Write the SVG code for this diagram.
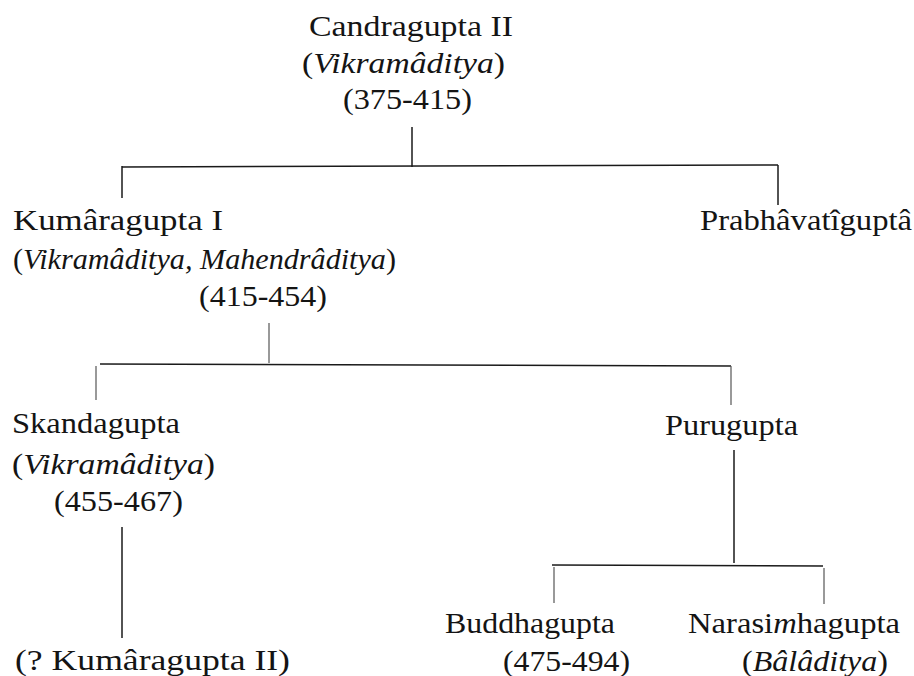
<svg xmlns="http://www.w3.org/2000/svg" width="914" height="676" viewBox="0 0 914 676">
<style>
  text { font-family: "Liberation Serif", "Times New Roman", serif; font-size: 30px; fill: #141414; }
  .i { font-style: italic; }
  .ln { stroke: #1a1a1a; stroke-width: 1.5; fill: none; }
  .lt { stroke: #555; stroke-width: 1.2; fill: none; }
</style>
<rect width="914" height="676" fill="#fff"/>
<g id="connectors">
  <line class="ln" x1="412" y1="127" x2="412" y2="167"/>
  <line class="ln" x1="122" y1="167" x2="778" y2="165"/>
  <line class="ln" x1="122" y1="166" x2="122" y2="198"/>
  <line class="ln" x1="778" y1="165" x2="778" y2="205" stroke-width="2"/>
  <line class="lt" x1="269" y1="323" x2="269" y2="363"/>
  <line class="ln" x1="100" y1="364" x2="731" y2="366"/>
  <line class="lt" x1="96" y1="366" x2="96" y2="400"/>
  <line class="lt" x1="731" y1="366" x2="731" y2="405"/>
  <line class="ln" x1="122" y1="527" x2="122" y2="638"/>
  <line class="ln" x1="734" y1="450" x2="734" y2="563"/>
  <line class="ln" x1="552" y1="565" x2="823" y2="566"/>
  <line class="lt" x1="554" y1="567" x2="554" y2="603" stroke="#999"/>
  <line class="lt" x1="824" y1="568" x2="824" y2="604"/>
</g>
<g id="candragupta2">
  <text x="309" y="36" textLength="204" lengthAdjust="spacingAndGlyphs">Candragupta  II</text>
  <text x="302" y="73" textLength="203" lengthAdjust="spacingAndGlyphs">(<tspan class="i">Vikramâditya</tspan>)</text>
  <text x="343" y="109" textLength="129" lengthAdjust="spacingAndGlyphs">(375-415)</text>
</g>
<g id="kumaragupta1">
  <text x="13" y="230" textLength="210" lengthAdjust="spacingAndGlyphs">Kumâragupta  I</text>
  <text x="13" y="269" textLength="383" lengthAdjust="spacingAndGlyphs">(<tspan class="i">Vikramâditya,  Mahendrâditya</tspan>)</text>
  <text x="199" y="306" textLength="128" lengthAdjust="spacingAndGlyphs">(415-454)</text>
</g>
<g id="prabhavatigupta">
  <text x="700" y="230" textLength="212" lengthAdjust="spacingAndGlyphs">Prabhâvatîguptâ</text>
</g>
<g id="skandagupta">
  <text x="12" y="433" textLength="168" lengthAdjust="spacingAndGlyphs">Skandagupta</text>
  <text x="12" y="474" textLength="203" lengthAdjust="spacingAndGlyphs">(<tspan class="i">Vikramâditya</tspan>)</text>
  <text x="54" y="511" textLength="129" lengthAdjust="spacingAndGlyphs">(455-467)</text>
</g>
<g id="purugupta">
  <text x="665" y="435" textLength="133" lengthAdjust="spacingAndGlyphs">Purugupta</text>
</g>
<g id="kumaragupta2">
  <text x="15" y="670" textLength="275" lengthAdjust="spacingAndGlyphs">(?  Kumâragupta  II)</text>
</g>
<g id="buddhagupta">
  <text x="445" y="633" textLength="170" lengthAdjust="spacingAndGlyphs">Buddhagupta</text>
  <text x="503" y="671" textLength="127" lengthAdjust="spacingAndGlyphs">(475-494)</text>
</g>
<g id="narasimhagupta">
  <text x="688" y="633" textLength="212" lengthAdjust="spacingAndGlyphs">Narasi<tspan class="i">m</tspan>hagupta</text>
  <text x="742" y="671" textLength="146" lengthAdjust="spacingAndGlyphs">(<tspan class="i">Bâlâditya</tspan>)</text>
</g>
</svg>
